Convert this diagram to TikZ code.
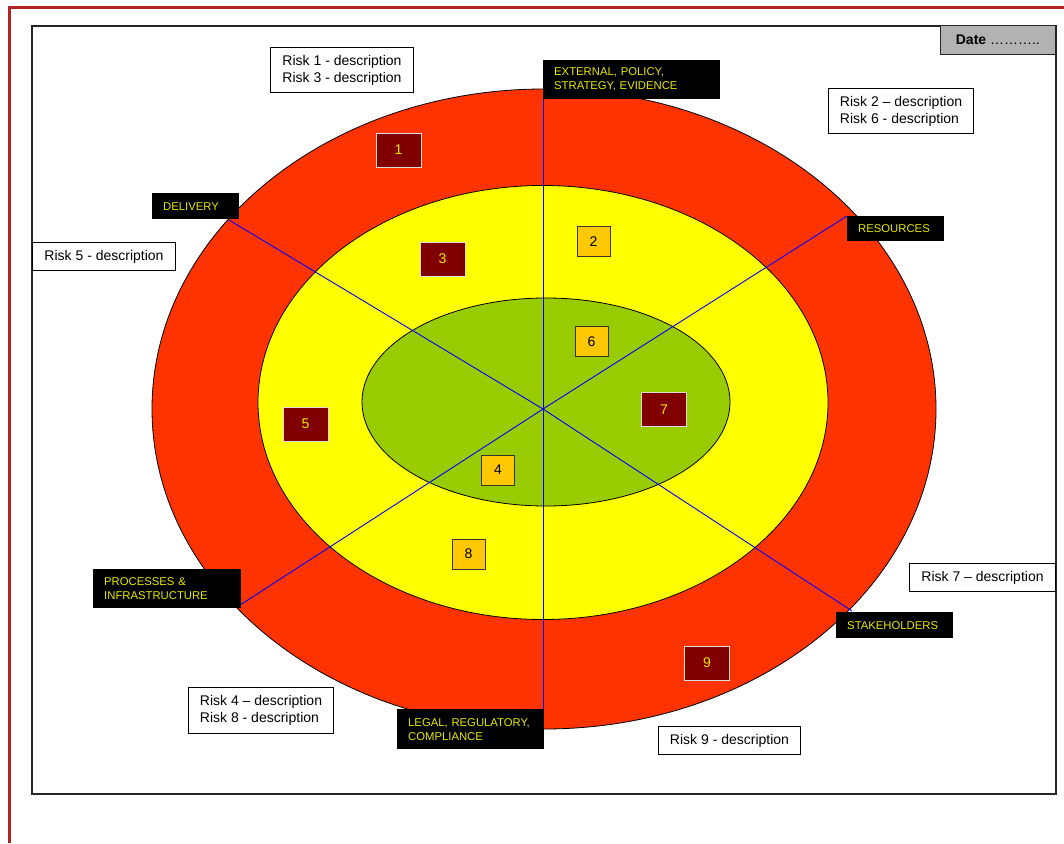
\documentclass[tikz,border=0pt]{standalone}
\usepackage{fontspec}
\setmainfont{Liberation Sans}
\definecolor{frameRed}{RGB}{178,34,34}
\definecolor{ringRed}{RGB}{255,51,0}
\definecolor{ringYellow}{RGB}{255,255,0}
\definecolor{ringGreen}{RGB}{153,204,0}
\definecolor{labYellow}{RGB}{232,232,0}
\definecolor{darkRed}{RGB}{128,0,0}
\definecolor{amber}{RGB}{255,200,0}
\definecolor{dateGray}{RGB}{178,178,178}
\definecolor{edgeGray}{RGB}{220,220,220}
\pgfdeclarelayer{rings}
\pgfdeclarelayer{axes}
\pgfsetlayers{rings,axes,main}
\begin{document}
\begin{tikzpicture}[x=1pt,y=-1pt,
  riskbox/.style={draw=black, line width=1pt, fill=white, align=left, inner sep=0pt,
    font=\fontsize{14}{17}\selectfont, anchor=north west},
  lab/.style={fill=black, text=labYellow, align=left, inner xsep=11pt, inner ysep=0pt,
    font=\fontsize{11.3}{14}\selectfont, anchor=north west},
  redbox/.style={fill=darkRed, draw=edgeGray, line width=1pt, text=labYellow,
    minimum width=45pt, minimum height=34pt, inner sep=0pt, font=\fontsize{14}{14}\selectfont},
  orbox/.style={fill=amber, draw=black!80, line width=1pt, text=black,
    minimum width=33pt, minimum height=30pt, inner sep=0pt, font=\fontsize{14}{14}\selectfont},
  axisline/.style={draw=blue, line width=0.9pt},
  ring/.style={draw=black, line width=0.8pt}
]
\useasboundingbox (0,0) rectangle (1064,843);
\begin{pgfonlayer}{rings}
% red page frame
\draw[frameRed, line width=3pt] (9,843) -- (9,8) -- (1064,8);
% outer black frame
\draw[black!85, line width=1.3pt] (32,26) rectangle (1056,794);
% rings
\filldraw[ring, fill=ringRed] (544,409) ellipse [x radius=392, y radius=320];
\filldraw[ring, fill=ringYellow] (543,402.5) ellipse [x radius=285, y radius=217];
\filldraw[ring, fill=ringGreen] (546,402) ellipse [x radius=184, y radius=104];
\end{pgfonlayer}
% date
\node[draw=black!85, line width=1.3pt, fill=dateGray, anchor=north east, minimum width=115pt,
  minimum height=29pt, inner sep=0pt, font=\fontsize{14}{14}\selectfont] (date) at (1056,25)
  {\textbf{Date} ………..};
% category labels
\node[lab, text width=155pt, minimum height=39pt] (ext) at (543,60) {EXTERNAL, POLICY,\\STRATEGY, EVIDENCE};
\node[lab, text width=65pt, minimum height=26pt] (deliv) at (152,193) {DELIVERY};
\node[lab, text width=75pt, minimum height=25pt] (res) at (847,216) {RESOURCES};
\node[lab, text width=126pt, minimum height=39pt] (proc) at (93,569) {PROCESSES \&\\INFRASTRUCTURE};
\node[lab, text width=95pt, minimum height=26pt] (stake) at (836,612) {STAKEHOLDERS};
\node[lab, text width=125pt, minimum height=40pt] (legal) at (397,709) {LEGAL, REGULATORY,\\COMPLIANCE};
% axis lines
\coordinate (c) at (543,409);
\coordinate (dl) at (229,220);
\coordinate (pl) at (237,607);
\coordinate (sl) at (852,611);
\begin{pgfonlayer}{axes}
\draw[axisline] (ext.north west) -- (c);
\draw[axisline] (c) -- (legal.north east -| c);
\draw[axisline] (dl) -- (c);
\draw[axisline] (res.north west) -- (c);
\draw[axisline] (pl) -- (c);
\draw[axisline] (c) -- (sl);
\end{pgfonlayer}
% risk description boxes
\node[riskbox, minimum width=143pt, minimum height=45pt] (r13) at (270,47) {Risk 1 - description\\Risk 3 - description};
\node[riskbox, minimum width=143pt, minimum height=28pt] (r5) at (32,242) {Risk 5 - description};
\node[riskbox, minimum width=145pt, minimum height=45pt] (r26) at (828,88) {Risk 2 – description\\Risk 6 - description};
\node[riskbox, minimum width=146pt, minimum height=28pt] (r7) at (909,563) {Risk 7 – description};
\node[riskbox, minimum width=142pt, minimum height=28pt] (r9) at (658,726) {Risk 9 - description};
\node[riskbox, minimum width=145pt, minimum height=46pt] (r48) at (188,687) {Risk 4 – description\\Risk 8 - description};
% numbered risks
\node[redbox] (n1) at (398.5,150) {1};
\node[redbox] (n3) at (442.5,259) {3};
\node[redbox] (n5) at (305.5,424) {5};
\node[redbox] (n7) at (664,409.5) {7};
\node[redbox] (n9) at (707,663) {9};
\node[orbox] (n2) at (593.5,241.5) {2};
\node[orbox] (n6) at (591.5,341.5) {6};
\node[orbox] (n4) at (498,470) {4};
\node[orbox] (n8) at (468.5,554) {8};
\end{tikzpicture}
\end{document}
